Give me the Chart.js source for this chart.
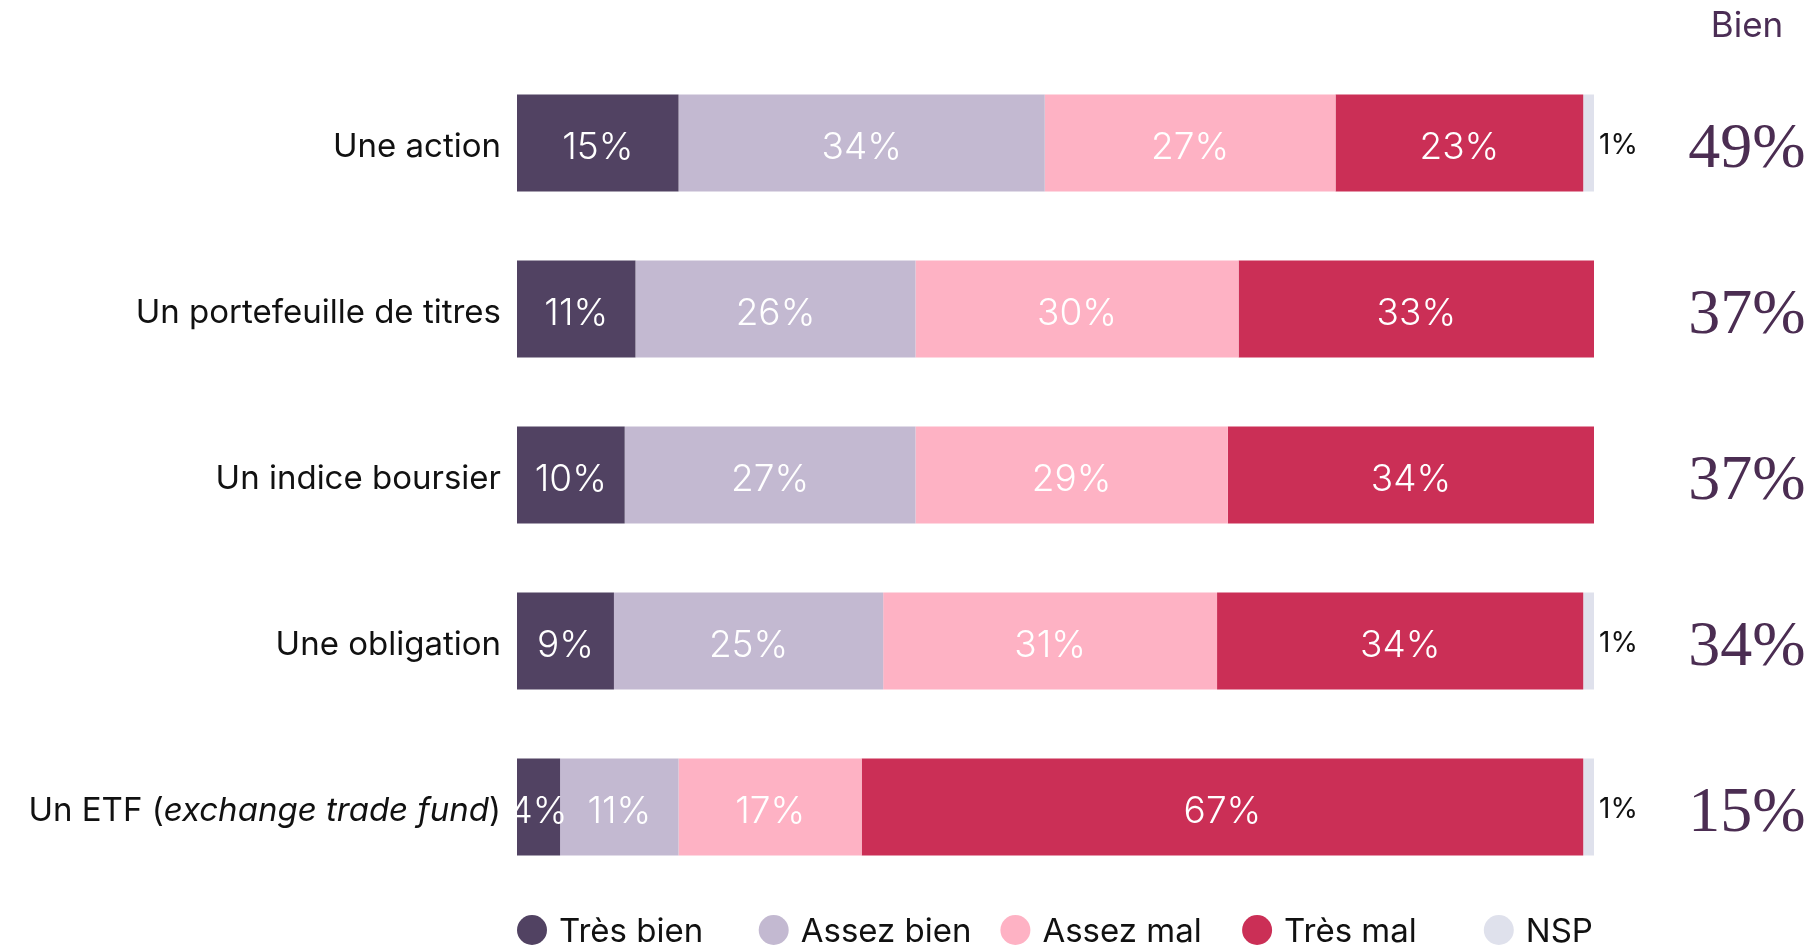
<!DOCTYPE html>
<html>
<head>
<meta charset="utf-8">
<script src="https://cdn.jsdelivr.net/npm/chart.js@4"></script>
<style>
  html, body { margin: 0; padding: 0; background: #ffffff; }
  #wrap { width: 1809px; height: 947px; position: relative; }
</style>
</head>
<body>
<div id="wrap"><canvas id="c"></canvas></div>
<script>
// ---- Data ----
const categories = [
  "Une action",
  "Un portefeuille de titres",
  "Un indice boursier",
  "Une obligation",
  "Un ETF (exchange trade fund)"
];
const tresBien  = [15, 11, 10, 9, 4];
const assezBien = [34, 26, 27, 25, 11];
const assezMal  = [27, 30, 29, 31, 17];
const tresMal   = [23, 33, 34, 34, 67];
const nsp       = [1, 0, 0, 1, 1];
const bienTotals = [49, 37, 37, 34, 15];
const seriesNames = ["Très bien", "Assez bien", "Assez mal", "Très mal", "NSP"];
const bienHeader = "Bien";

// ---- Styles ----
const colors = ["#514262", "#c3b9d1", "#feb2c4", "#cb2f56", "#dfe1ec"];
const SANS = "Inter, 'Noto Sans', sans-serif";

const seriesData = [tresBien, assezBien, assezMal, tresMal, nsp];

// rich (italic) segments for the category labels
function labelSegments(label) {
  const m = label.match(/^(.*\()(.+)(\).*)$/);
  if (m) return [[m[1], false], [m[2], true], [m[3], false]];
  return [[label, false]];
}

const customPlugin = {
  id: 'customText',
  afterDatasetsDraw(chart) {
    const ctx = chart.ctx;
    const yScale = chart.scales.y;
    ctx.save();
    // values inside bars
    chart.data.datasets.forEach((ds, di) => {
      const meta = chart.getDatasetMeta(di);
      meta.data.forEach((bar, i) => {
        const v = ds.data[i];
        if (!v) return;
        const txt = v + '%';
        ctx.textBaseline = 'middle';
        if (di === 4) {
          ctx.font = "400 28px " + SANS;
          ctx.fillStyle = '#111111';
          ctx.textAlign = 'left';
          ctx.fillText(txt, bar.x + 5, bar.y + 3);
        } else {
          ctx.font = "300 37px " + SANS;
          ctx.fillStyle = '#ffffff';
          ctx.textAlign = 'center';
          ctx.fillText(txt, (bar.x + bar.base) / 2, bar.y + 5);
        }
      });
    });

    // category labels (with italic part)
    const LF = "33px ";
    categories.forEach((label, i) => {
      const y = yScale.getPixelForValue(i);
      const segs = labelSegments(label);
      let total = 0;
      const widths = segs.map(([t, it]) => {
        ctx.font = (it ? "italic " : "") + "400 " + LF + SANS;
        const w = ctx.measureText(t).width;
        total += w;
        return w;
      });
      let x = chart.chartArea.left - 16 - total;
      ctx.textAlign = 'left';
      ctx.textBaseline = 'middle';
      ctx.fillStyle = '#111111';
      segs.forEach(([t, it], k) => {
        ctx.font = (it ? "italic " : "") + "400 " + LF + SANS;
        ctx.fillText(t, x, y + 4);
        x += widths[k];
      });
    });

    // "Bien" column
    const colX = chart.chartArea.right + 153;
    ctx.textAlign = 'center';
    ctx.textBaseline = 'middle';
    ctx.fillStyle = '#4b2d55';
    ctx.font = "400 35px " + SANS;
    ctx.fillText(bienHeader, colX, 26);
    ctx.font = "400 64px 'Liberation Serif', 'DejaVu Serif', serif";
    ctx.fillStyle = '#4b2d52';
    bienTotals.forEach((v, i) => {
      const y = yScale.getPixelForValue(i);
      ctx.fillText(v + '%', colX, y + 7);
    });

    // legend
    const legY = 930;
    seriesNames.forEach((name, i) => {
      const x0 = 517 + i * 241.7;
      ctx.beginPath();
      ctx.arc(x0 + 15, legY, 15, 0, Math.PI * 2);
      ctx.fillStyle = colors[i];
      ctx.fill();
      ctx.fillStyle = '#111111';
      ctx.font = "400 33px " + SANS;
      ctx.textAlign = 'left';
      ctx.textBaseline = 'middle';
      ctx.fillText(name, x0 + 42, legY + 2);
    });
    ctx.restore();
  }
};

new Chart(document.getElementById('c'), {
  type: 'bar',
  data: {
    labels: categories,
    datasets: seriesNames.map((name, i) => ({
      label: name,
      data: seriesData[i],
      backgroundColor: colors[i],
      borderWidth: 0,
      barPercentage: 0.585,
      categoryPercentage: 1.0
    }))
  },
  options: {
    indexAxis: 'y',
    responsive: true,
    maintainAspectRatio: false,
    animation: false,
    layout: { padding: { left: 517, right: 215, top: 60, bottom: 57 } },
    plugins: {
      legend: { display: false },
      tooltip: { enabled: false }
    },
    scales: {
      x: { stacked: true, min: 0, max: 100, display: false },
      y: { stacked: true, display: false }
    }
  },
  plugins: [customPlugin]
});
</script>
</body>
</html>
